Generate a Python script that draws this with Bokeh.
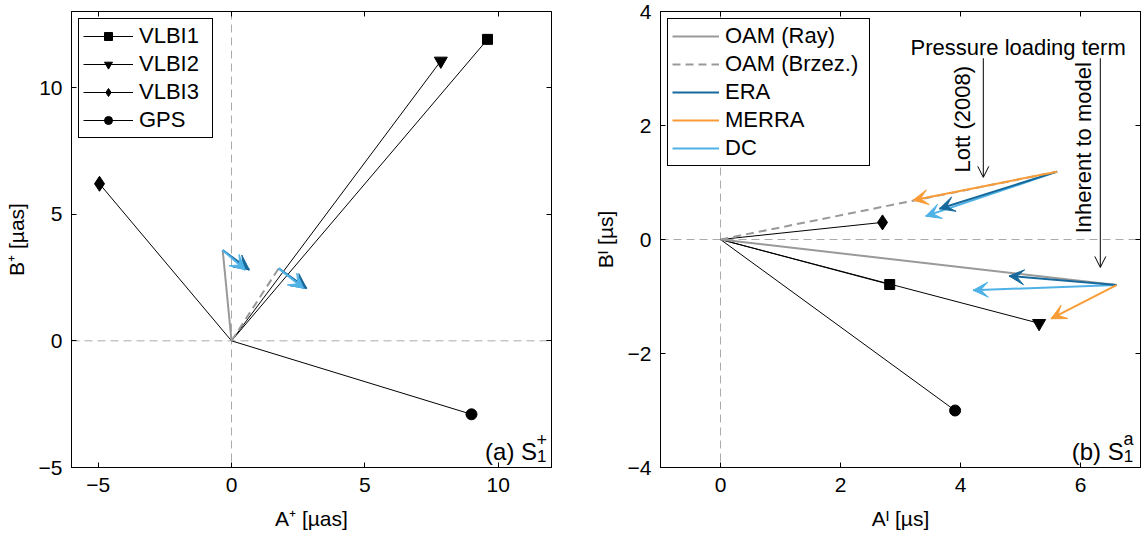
from bokeh.plotting import figure
from bokeh.models import (Range1d, FixedTicker, LinearAxis, Span, Arrow, VeeHead,
                          OpenHead, Legend, LegendItem, ColumnDataSource)
from bokeh.layouts import row
from bokeh.core.properties import value
from bokeh.embed import file_html
from bokeh.resources import INLINE
import math

FONT = "Liberation Sans"

# ---------------- data ----------------
series_names = ["VLBI1", "VLBI2", "VLBI3", "GPS"]
series_markers = ["square", "inverted_triangle", "diamond", "circle"]
series_sizes = [10, 13, 15, 11]

# (a) S1+  [µas]
left_A = [9.6, 7.85, -4.95, 9.0]
left_B = [11.9, 11.05, 6.2, -2.9]
left_oam_ray = (-0.33, 3.58)
left_oam_brz = (1.77, 2.86)
# arrows (start = OAM tip) -> end
left_era_end = [(0.67, 2.80), (2.82, 2.07)]
left_dc_end = [(0.52, 2.80), (2.71, 2.07)]

# (b) S1a  [µs]
right_A = [2.82, 5.31, 2.70, 3.91]
right_B = [-0.79, -1.47, 0.30, -3.0]
right_oam_ray = (6.6, -0.80)
right_oam_brz = (5.61, 1.19)
right_era_end = [(3.65, 0.54), (4.81, -0.64)]
right_merra_end = [(3.21, 0.69), (5.51, -1.39)]
right_dc_end = [(3.42, 0.41), (4.21, -0.89)]

left_xticks = [-5, 0, 5, 10]
left_yticks = [-5, 0, 5, 10]
right_xticks = [0, 2, 4, 6]
right_yticks = [-4, -2, 0, 2, 4]

GRAY = "#999999"
ERA_C = "#17699c"
MERRA_C = "#f99c36"
DC_C = "#4fb2e6"
ZERO_C = "#aaaaaa"

H = 532


def make_fig(xr, yr, xt, yt, width, mbl, mbr, xlabel, ylabel):
    p = figure(width=width, height=H, x_range=Range1d(*xr), y_range=Range1d(*yr),
               output_backend="svg", toolbar_location=None,
               min_border_left=mbl, min_border_right=mbr, min_border_top=11,
               min_border_bottom=H - 468)
    p.grid.visible = False
    p.outline_line_color = "black"
    p.outline_line_alpha = 1
    p.outline_line_width = 1
    p.xaxis.ticker = FixedTicker(ticks=xt)
    p.yaxis.ticker = FixedTicker(ticks=yt)
    p.xaxis.axis_label = xlabel
    p.yaxis.axis_label = ylabel
    for ax in list(p.xaxis) + list(p.yaxis):
        ax.axis_line_color = "black"
        ax.major_tick_line_color = "black"
        ax.major_tick_in = 5
        ax.major_tick_out = 0
        ax.minor_tick_line_color = None
        ax.major_label_text_font = FONT
        ax.major_label_text_font_size = "21px"
        ax.major_label_text_color = "black"
        ax.axis_label_text_font = FONT
        ax.axis_label_text_font_size = "21px"
        ax.axis_label_text_font_style = "normal"
        ax.axis_label_text_color = "black"
    for ax in p.xaxis:
        ax.major_label_standoff = 10
        ax.axis_label_standoff = 12
    for ax in p.yaxis:
        ax.major_label_standoff = 9
        ax.axis_label_standoff = 8
    for place, ticks in (("above", xt), ("right", yt)):
        ax = LinearAxis(ticker=FixedTicker(ticks=ticks), major_label_text_font_size="0px",
                        major_label_text_color=None,
                        major_label_standoff=0, major_tick_in=5, major_tick_out=0,
                        minor_tick_line_color=None, axis_line_color="black",
                        major_tick_line_color="black")
        p.add_layout(ax, place)
    for dim in ("height", "width"):
        p.add_layout(Span(location=0, dimension=dim, line_color=ZERO_C,
                          line_dash="8 5", line_width=1, level="underlay"))
    return p


def add_series(p, A, B):
    items = []
    for name, mk, sz, a, b in zip(series_names, series_markers, series_sizes, A, B):
        lr = p.line([0, a], [0, b], line_color="black", line_width=1)
        sr = p.scatter([a], [b], marker=mk, size=sz, fill_color="black", line_color="black")
        items.append(LegendItem(label=name, renderers=[lr, sr]))
    return items


def add_arrows(p, start, ends, color):
    src = ColumnDataSource(dict(x0=[s[0] for s in start], y0=[s[1] for s in start],
                                x1=[e[0] for e in ends], y1=[e[1] for e in ends]))
    r = p.segment("x0", "y0", "x1", "y1", source=src, line_color=color, line_width=2)
    p.add_layout(Arrow(end=VeeHead(size=15, fill_color=color, line_color=color, line_width=1),
                       x_start="x0", y_start="y0", x_end="x1", y_end="y1",
                       source=src, line_alpha=0))
    return r


def style_legend(leg, lw, gw):
    leg.location = "top_left"
    leg.margin = 7
    leg.label_text_font = FONT
    leg.label_text_font_size = "22px"
    leg.label_text_color = "black"
    leg.border_line_color = "black"
    leg.border_line_alpha = 1
    leg.border_line_width = 1
    leg.background_fill_alpha = 1
    leg.glyph_width = gw
    leg.glyph_height = 20
    leg.label_height = 20
    leg.label_width = lw
    leg.label_standoff = 6
    leg.spacing = 2
    leg.padding = 4


# ---------------- left panel ----------------
W1 = 590
p1 = make_fig((-6, 12), (-5, 13), left_xticks, left_yticks, W1, 71, W1 - 551,
              "A⁺ [µas]", "B⁺ [µas]")
items1 = add_series(p1, left_A, left_B)
p1.line([0, left_oam_ray[0]], [0, left_oam_ray[1]], line_color=GRAY, line_width=2)
p1.line([0, left_oam_brz[0]], [0, left_oam_brz[1]], line_color=GRAY, line_width=2, line_dash="8 5")
add_arrows(p1, [left_oam_ray, left_oam_brz], left_era_end, ERA_C)
add_arrows(p1, [left_oam_ray, left_oam_brz], left_dc_end, DC_C)
leg1 = Legend(items=items1)
style_legend(leg1, 69, 50)
p1.add_layout(leg1)

corner_a_main = ["(a) S"]
corner_a_sup = ["+"]
corner_sub = ["1"]
p1.text(x=[11.46], y=[-4.37], text=corner_a_main, text_font=value(FONT),
        text_font_size=value("24px"), text_align="right", text_baseline="alphabetic",
        text_color="black")
p1.text(x=[11.63], y=[-3.90], text=corner_a_sup, text_font=value(FONT),
        text_font_size=value("18px"), text_align="center", text_baseline="middle",
        text_color="black")
p1.text(x=[11.63], y=[-4.55], text=corner_sub, text_font=value(FONT),
        text_font_size=value("17px"), text_align="center", text_baseline="middle",
        text_color="black")

# ---------------- right panel ----------------
W2 = 1146 - W1
p2 = make_fig((-1, 7), (-4, 4), right_xticks, right_yticks, W2, 660 - W1,
              W2 - (1140 - W1), "Aᴵ [µs]", "Bᴵ [µs]")
add_series(p2, right_A, right_B)
r_ray = p2.line([0, right_oam_ray[0]], [0, right_oam_ray[1]], line_color=GRAY, line_width=2)
r_brz = p2.line([0, right_oam_brz[0]], [0, right_oam_brz[1]], line_color=GRAY, line_width=2,
                line_dash="8 5")
starts = [right_oam_brz, right_oam_ray]
r_dc = add_arrows(p2, starts, right_dc_end, DC_C)
r_era = add_arrows(p2, starts, right_era_end, ERA_C)
r_merra = add_arrows(p2, starts, right_merra_end, MERRA_C)
leg2 = Legend(items=[LegendItem(label="OAM (Ray)", renderers=[r_ray]),
                     LegendItem(label="OAM (Brzez.)", renderers=[r_brz]),
                     LegendItem(label="ERA", renderers=[r_era]),
                     LegendItem(label="MERRA", renderers=[r_merra]),
                     LegendItem(label="DC", renderers=[r_dc])])
style_legend(leg2, 140, 47)
p2.add_layout(leg2)

# annotations
note_title = ["Pressure loading term"]
note_labels = ["Lott (2008)", "Inherent to model"]
note_x = [4.03, 6.05]
note_y = [2.11, 1.61]
pointer_x = [4.38, 6.33]
pointer_top = [3.18, 3.18]
pointer_bottom = [1.09, -0.49]

p2.text(x=[4.96], y=[3.37], text=note_title, text_font=value(FONT),
        text_font_size=value("22px"), text_align="center", text_baseline="alphabetic",
        text_color="black")
p2.text(x=note_x, y=note_y, text=note_labels, angle=math.pi / 2, text_font=value(FONT),
        text_font_size=value("22px"), text_align="center", text_baseline="middle",
        text_color="black")
psrc = ColumnDataSource(dict(x=pointer_x, y0=pointer_top, y1=pointer_bottom))
p2.add_layout(Arrow(end=OpenHead(size=11, line_color="black", line_width=1),
                    x_start="x", y_start="y0", x_end="x", y_end="y1", source=psrc,
                    line_color="black", line_width=1))

corner_b_main = ["(b) S"]
corner_b_sup = ["a"]
p2.text(x=[6.72], y=[-3.72], text=corner_b_main, text_font=value(FONT),
        text_font_size=value("24px"), text_align="right", text_baseline="alphabetic",
        text_color="black")
p2.text(x=[6.80], y=[-3.50], text=corner_b_sup, text_font=value(FONT),
        text_font_size=value("18px"), text_align="center", text_baseline="middle",
        text_color="black")
p2.text(x=[6.80], y=[-3.79], text=corner_sub, text_font=value(FONT),
        text_font_size=value("17px"), text_align="center", text_baseline="middle",
        text_color="black")

layout = row(p1, p2)
open("out.html", "w").write(file_html(layout, INLINE))
